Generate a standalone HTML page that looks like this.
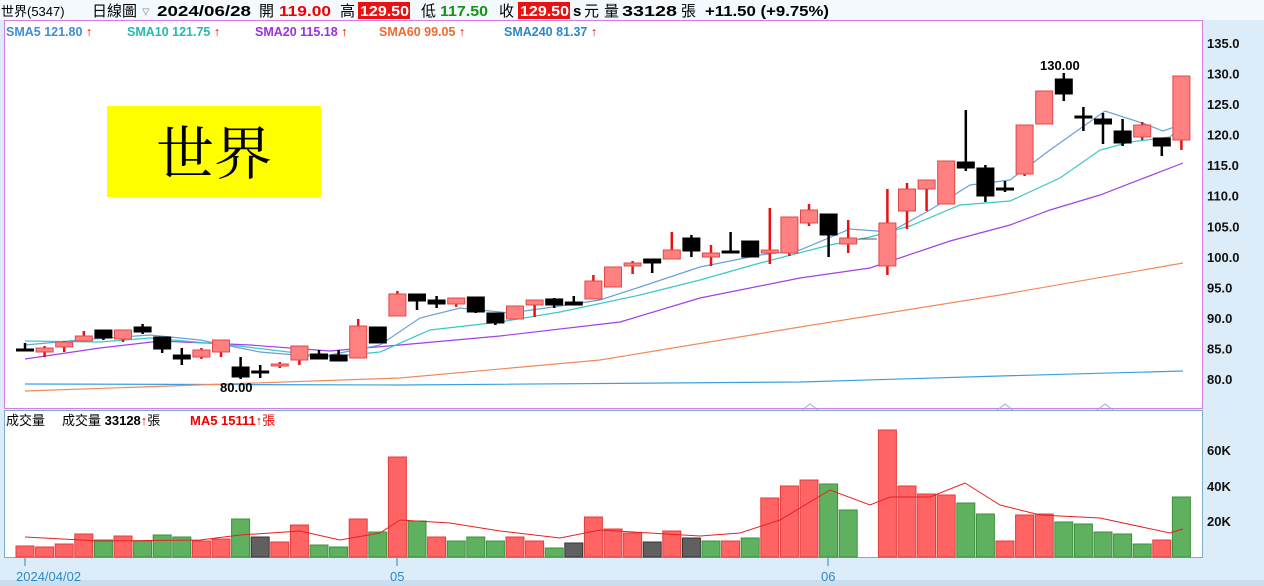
<!DOCTYPE html>
<html><head><meta charset="utf-8"><style>
html,body{margin:0;padding:0;width:1264px;height:586px;overflow:hidden;background:#dcedf9;font-family:"Liberation Sans","Noto Sans CJK TC",sans-serif}
svg{position:absolute;left:0;top:0}
</style></head><body>
<svg id="s" width="1264" height="586" xmlns="http://www.w3.org/2000/svg">
<rect x="0" y="0" width="1264" height="20" fill="#f4f9fd"/>
<rect x="4.5" y="20.5" width="1198" height="388" fill="#fff" stroke="#d77ce0"/>
<rect x="4.5" y="410.5" width="1198" height="147" fill="#fff" stroke="#7aaed0"/>
<rect x="0" y="580" width="1264" height="6" fill="#c9dfee"/>
<rect x="358" y="2" width="52" height="17" fill="#e81010"/>
<rect x="518" y="2" width="52" height="17" fill="#e81010"/>
<g font-size="15" font-family="Liberation Sans,Noto Sans CJK TC,sans-serif">
<text x="1" y="16" font-size="13">世界(5347)</text>
<text x="92" y="16">日線圖</text>
<text x="142" y="16" fill="#9ab">▿</text>
<g font-weight="bold">
<text x="157" y="16" textLength="94" lengthAdjust="spacingAndGlyphs">2024/06/28</text>
<text x="279" y="16" fill="#e00" textLength="52" lengthAdjust="spacingAndGlyphs">119.00</text>
<text x="360" y="16" fill="#fff" textLength="49" lengthAdjust="spacingAndGlyphs">129.50</text>
<text x="440" y="16" fill="#129612" textLength="48" lengthAdjust="spacingAndGlyphs">117.50</text>
<text x="520" y="16" fill="#fff" textLength="49" lengthAdjust="spacingAndGlyphs">129.50</text>
<text x="573" y="16">s</text>
<text x="622" y="16" textLength="55" lengthAdjust="spacingAndGlyphs">33128</text>
<text x="705" y="16" textLength="124" lengthAdjust="spacingAndGlyphs">+11.50 (+9.75%)</text>
</g>
<text x="259" y="16">開</text>
<text x="340" y="16">高</text>
<text x="421" y="16">低</text>
<text x="499" y="16">收</text>
<text x="584" y="16">元</text>
<text x="604" y="16">量</text>
<text x="681" y="16">張</text>
</g>
<text y="36" font-size="12.5" font-weight="bold">
<tspan x="6" fill="#3d8fd6">SMA5 121.80</tspan><tspan fill="#e00"> ↑</tspan>
<tspan x="127" fill="#22bbb0">SMA10 121.75</tspan><tspan fill="#e00"> ↑</tspan>
<tspan x="255" fill="#9b30e0">SMA20 115.18</tspan><tspan fill="#e00"> ↑</tspan>
<tspan x="379" fill="#ee6a30">SMA60 99.05</tspan><tspan fill="#e00"> ↑</tspan>
<tspan x="504" fill="#2a88c8">SMA240 81.37</tspan><tspan fill="#e00"> ↑</tspan>
</text>
<rect x="107" y="106" width="214" height="91" fill="#ffff00"/>
<text x="214" y="174" font-size="58" text-anchor="middle" font-family="Noto Serif CJK SC,serif">世界</text>
<g id="ax" font-size="13" font-weight="bold" fill="#111"></g>
<g id="ma"></g><g id="c"></g><g id="v"></g>
<text x="1040" y="70" font-size="13" font-weight="bold">130.00</text>
<text x="220" y="392" font-size="13" font-weight="bold">80.00</text>
<text y="425" font-size="13">
<tspan x="6">成交量</tspan><tspan x="62">成交量 </tspan><tspan font-weight="bold">33128</tspan><tspan fill="#e00" font-weight="bold">↑</tspan><tspan>張</tspan>
<tspan x="190" fill="#e00" font-weight="bold">MA5 15111</tspan><tspan fill="#e00" font-weight="bold">↑</tspan><tspan fill="#e00">張</tspan>
</text>
<g fill="#2a88c8" font-size="13"><text x="16" y="581">2024/04/02</text><text x="390" y="581">05</text><text x="821" y="581">06</text></g>
<g stroke="#2a88c8"><line x1="25" y1="558" x2="25" y2="566"/><line x1="397" y1="558" x2="397" y2="566"/><line x1="828" y1="558" x2="828" y2="566"/></g>
<g fill="none" stroke="#9aaede"><polyline points="802,410 810,404 818,410"/><polyline points="997,410 1005,404 1013,410"/><polyline points="1097,410 1105,404 1113,410"/></g>
</svg>
<script>
const NS="http://www.w3.org/2000/svg";
function el(p,t,a){const e=document.createElementNS(NS,t);for(const k in a)e.setAttribute(k,a[k]);document.getElementById(p).appendChild(e);return e;}
[135,130,125,120,115,110,105,100,95,90,85,80].forEach(p=>{const y=379-(p-80)*6.109;const t=el('ax','text',{x:1207,y:y+5});t.textContent=p.toFixed(1);});
[[60,450],[40,486],[20,521]].forEach(([v,y])=>{const t=el('ax','text',{x:1207,y:y+5});t.textContent=v+'K';});
const C=[
['b',349,350,343,350],['r',348,352,346,357],['r',342,347,341,352],['r',336,341,331,341],['b',330,338,330,340],
['r',330,339,330,342],['b',327,332,324,334],['b',337,349,337,353],['b',355,359,348,365],['r',350,357,348,359],
['r',340,352,340,357],['b',367,377,357,379],['b',371,372,365,378],['r',364,366,362,368],['r',346,360,346,365],
['b',354,359,350,359],['b',355,361,350,361],['r',326,358,319,358],['b',327,343,327,343],['r',294,316,291,316],
['b',294,301,294,310],['b',300,304,296,308],['r',298,304,298,307],['b',297,312,297,313],['b',313,323,313,325],
['r',306,319,306,319],['r',300,305,300,317],['b',299,305,298,308],['b',302,305,296,305],['r',281,299,275,299],
['r',267,287,267,287],['r',263,266,261,274],['b',259,263,259,273],['r',250,259,232,259],['b',238,251,235,257],
['r',253,257,245,266],['b',251,252,232,252],['b',241,257,241,257],['r',250,253,208,264],['r',217,253,217,256],
['r',210,223,204,226],['b',214,235,214,257],['r',238,244,220,253],['f',239,239,239,239],['r',223,266,189,275],
['r',189,211,183,229],['r',180,189,180,211],['r',161,204,161,204],['b',162,168,110,171],['b',168,196,165,202],
['b',188,189,181,192],['r',125,174,125,176],['r',91,124,91,124],['b',79,94,73,101],['b',116,118,107,131],
['b',119,124,113,144],['b',131,143,119,146],['r',125,137,122,140],['b',138,146,138,156],['r',76,140,76,150]];
const V=[546,547,544,534,540,536,541,535,537,541,539,519,537,542,525,545,547,519,532,457,521,537,541,537,541,537,541,548,543,517,529,533,542,531,538,541,541,538,498,486,480,484,510,0,430,486,494,495,503,514,541,515,514,522,524,532,534,544,540,497];
const VC='rrrrgrgggrrgxrrggrgrgrgggrrgxrrrxrxgrgrrrgg-rrrrggrrrgggggrgr';
C.forEach((c,i)=>{const x=25+19.6*i;
 if(c[0]=='f'){el('c','line',{x1:x-9,x2:x+9,y1:c[1],y2:c[1],stroke:'#555','stroke-width':1});return;}
 const red=c[0]=='r';const col=red?'#e81010':'#000';
 el('c','line',{x1:x,x2:x,y1:c[3],y2:c[4],stroke:col,'stroke-width':2.5});
 const h=Math.max(c[2]-c[1],2);
 el('c','rect',{x:x-8.5,y:c[1],width:17,height:h,fill:red?'#ff8080':'#000',stroke:red?'#e04848':'#000','stroke-width':1});
});
V.forEach((y,i)=>{if(!y)return;const x=25+19.6*i;const t=VC[i];
 const f=t=='r'?'#ff6464':t=='g'?'#5fb15f':'#606060';const s=t=='r'?'#e03c3c':t=='g'?'#3b8f3b':'#333';
 el('v','rect',{x:x-9,y:y,width:18,height:557-y,fill:f,stroke:s,'stroke-width':1});});
const L=[
['#3aa0e0','25,384 400,385 800,382 1000,376 1183,371'],
['#f08a5a','25,391 400,378 600,360 800,327 1000,295 1183,263'],
['#a040e8','25,359 100,348 160,341 250,345 330,351 400,345 500,336 620,322 700,298 800,278 870,268 950,241 1010,225 1050,210 1100,195 1183,163'],
['#3cc8c8','25,341 100,342 150,338 230,345 330,357 380,352 430,330 500,322 560,312 640,295 700,280 760,263 830,245 870,237 910,226 960,205 1010,201 1060,178 1100,150 1130,142 1170,137 1183,124'],
['#6aa0d8','25,345 80,340 150,335 200,340 260,352 320,357 380,345 420,318 460,308 510,313 560,306 600,300 640,287 700,267 760,255 800,250 850,229 890,232 930,210 970,185 1010,180 1050,150 1105,111 1145,124 1163,131 1183,124']];
L.forEach(([c,p])=>el('ma','polyline',{points:p,fill:'none',stroke:c,'stroke-width':1.2}));
el('v','polyline',{points:'25,537 100,541 200,540 240,535 300,531 340,540 380,533 400,520 450,523 500,531 560,538 600,530 650,533 700,536 740,533 780,520 830,490 870,505 890,497 930,497 965,483 1000,505 1040,515 1100,518 1170,533 1183,529',fill:'none',stroke:'#e82020','stroke-width':1});
</script>
</body></html>
